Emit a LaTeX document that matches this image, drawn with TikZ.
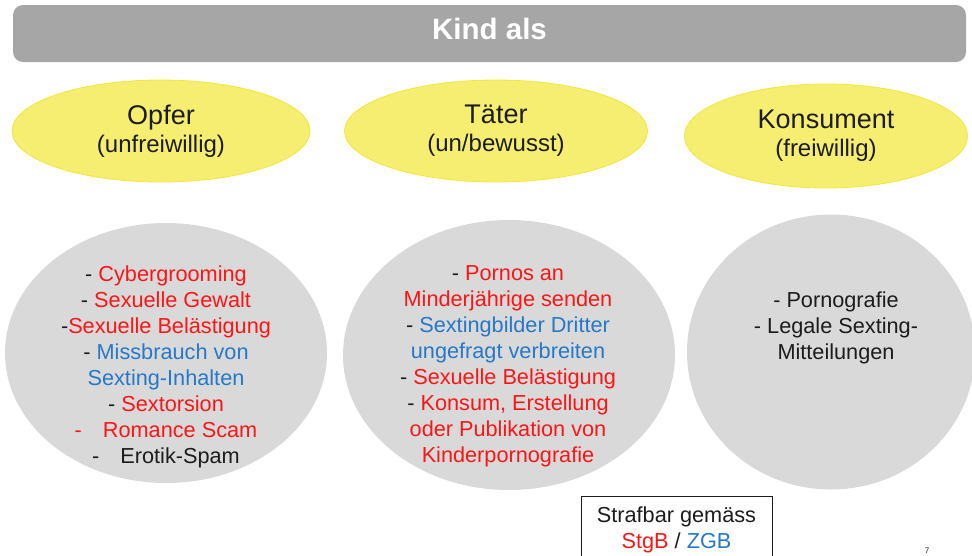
\documentclass[tikz,border=0pt]{standalone}
\usepackage{fontspec}
\setmainfont{Liberation Sans}
\usetikzlibrary{shapes.geometric}
\definecolor{barGray}{RGB}{166,166,166}
\definecolor{ellFill}{RGB}{246,238,112}
\definecolor{ellDraw}{RGB}{242,230,60}
\definecolor{circGray}{RGB}{217,217,217}
\definecolor{txtRed}{RGB}{250,22,22}
\definecolor{txtBlue}{RGB}{38,120,200}
\definecolor{txtDark}{RGB}{28,28,28}
\newcommand{\Rt}[1]{\textcolor{txtRed}{#1}}
\newcommand{\Bt}[1]{\textcolor{txtBlue}{#1}}
\tikzset{
  rolebox/.style={ellipse, fill=ellFill, draw=ellDraw, line width=0.8pt, inner sep=0pt,
    align=center, text=txtDark, font=\fontsize{24}{28}\selectfont},
  listcirc/.style={ellipse, fill=circGray, draw=none, inner sep=0pt},
  listtext/.style={align=center, text=txtDark, inner sep=0pt, font=\fontsize{21.7}{26}\selectfont},
}
\begin{document}
\begin{tikzpicture}[x=1pt,y=-1pt]
\useasboundingbox (0,0) rectangle (972,555);
\clip (0,0) rectangle (972,555);
% title bar
\node[fill=barGray, rounded corners=10pt, minimum width=953pt, minimum height=57pt, inner sep=0pt,
  text=white, font=\fontsize{29.5}{32}\selectfont\bfseries, text height=21.5pt, text depth=10.5pt]
  (title) at (489.5,33.5) {Kind als};
% role ellipses
\node[rolebox, minimum width=298pt, minimum height=102pt] (opfer) at (161,131)
  {{\fontsize{27}{28}\selectfont Opfer}\\(unfreiwillig)};
\node[rolebox, minimum width=303pt, minimum height=102pt] (taeter) at (496,131)
  {{\fontsize{27}{28}\selectfont Täter}\\(un/bewusst)};
\node[rolebox, minimum width=283pt, minimum height=104pt] (konsument) at (826,136)
  {{\fontsize{27}{28}\selectfont Konsument}\\(freiwillig)};
% gray circles
\node[listcirc, minimum width=322pt, minimum height=260pt] (c1) at (166,353) {};
\node[listcirc, minimum width=332pt, minimum height=270pt] (c2) at (509,355) {};
\node[listcirc, minimum width=288pt, minimum height=275pt] (c3) at (831,352) {};
% lists
\node[listtext] (t1) at (166,366.5) {%
- \Rt{Cybergrooming}\\
- \Rt{Sexuelle Gewalt}\\
-\Rt{Sexuelle Belästigung}\\
- \Bt{Missbrauch von}\\
\Bt{Sexting-Inhalten}\\
- \Rt{Sextorsion}\\
\Rt{-\hspace{21pt}Romance Scam}\\
-\hspace{21pt}Erotik-Spam};
\node[listtext] (t2) at (508,366.5) {%
- \Rt{Pornos an}\\
\Rt{Minderjährige senden}\\
- \Bt{Sextingbilder Dritter}\\
\Bt{ungefragt verbreiten}\\
- \Rt{Sexuelle Belästigung}\\
- \Rt{Konsum, Erstellung}\\
\Rt{oder Publikation von}\\
\Rt{Kinderpornografie}};
\node[listtext] (t3) at (836,328) {%
- Pornografie\\
- Legale Sexting-\\
Mitteilungen};
% legend box
\node[draw=txtDark, line width=0.8pt, fill=white, anchor=north, inner xsep=16pt, inner ysep=10pt,
  align=center, text=txtDark, font=\fontsize{21.7}{26}\selectfont] (legend) at (676.5,496)
  {Strafbar gemäss\\\Rt{StgB} / \Bt{ZGB}};
% page number
\node[anchor=north, inner sep=0pt, text=txtDark, font=\fontsize{8}{9}\selectfont] (pagenum) at (927,548) {7};
\end{tikzpicture}
\end{document}
